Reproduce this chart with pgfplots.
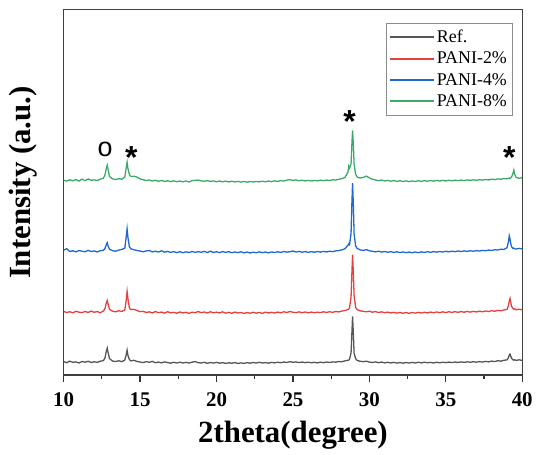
\documentclass[border=0pt]{standalone}
\usepackage{fontspec}
\setmainfont{Liberation Serif}
\newfontfamily\symfont{Liberation Sans}
\usepackage{pgfplots}
\pgfplotsset{compat=1.18}
\usepackage{pgfplotstable}

\definecolor{cRef}{RGB}{85,85,85}
\definecolor{c2}{RGB}{228,64,64}
\definecolor{c4}{RGB}{30,104,208}
\definecolor{c8}{RGB}{58,170,104}

% columns: 2theta, Ref, PANI-2%, PANI-4%, PANI-8% (stacked, arbitrary units)
\pgfplotstableread{
x     k     r     b     g
10.0  13.5  64.0  125.5 195.8
10.2  12.4  62.8  127.0 194.9
10.4  13.9  63.6  124.2 196.3
10.6  12.8  62.5  124.9 195.2
10.8  13.2  64.1  123.8 196.6
11.0  12.1  63.2  125.1 195.0
11.2  13.6  62.7  124.5 196.9
11.4  12.9  63.9  123.9 195.4
11.6  13.8  62.9  125.3 197.1
11.8  12.6  64.3  124.1 195.8
12.0  13.3  63.1  124.8 196.2
12.2  12.7  63.8  123.7 195.5
12.4  13.9  62.6  125.0 197.0
12.6  14.5  64.4  125.4 197.8
12.7  17.0  66.5  127.0 201.0
12.8  24.5  73.0  131.5 208.5
12.85 27.0  75.0  133.0 211.0
12.9  23.0  71.5  130.0 207.0
13.0  16.5  66.0  126.5 199.5
13.2  14.0  64.2  125.0 197.2
13.4  13.6  63.5  124.4 196.5
13.6  14.3  64.6  125.6 197.4
13.8  13.4  63.9  126.2 196.8
14.0  15.0  65.5  127.5 199.0
14.1  21.0  76.0  140.0 209.0
14.15 25.0  84.0  147.0 214.0
14.2  20.0  77.0  139.0 208.0
14.3  15.5  67.5  129.0 201.5
14.4  14.2  65.8  126.8 199.5
14.6  14.8  66.0  125.9 199.8
14.8  13.6  64.8  125.2 199.0
15.0  13.1  63.7  124.6 197.2
15.2  12.5  64.0  123.9 196.3
15.4  13.4  62.9  124.7 195.5
15.6  12.8  63.5  125.2 196.1
15.8  13.7  62.4  123.8 195.0
16.0  12.3  63.8  124.5 195.8
16.2  13.0  62.7  123.6 194.7
16.4  12.2  63.3  124.9 195.6
16.6  13.2  62.2  123.5 194.5
16.8  12.5  63.6  124.3 195.3
17.0  11.9  62.5  123.2 194.4
17.2  12.8  63.0  124.1 195.2
17.4  12.0  62.1  123.0 194.3
17.6  12.9  63.4  124.0 195.0
17.8  12.1  62.4  122.9 194.2
18.0  12.7  63.1  123.8 195.1
18.2  12.0  62.0  123.1 194.0
18.4  12.9  63.2  124.2 195.4
18.6  13.5  62.6  123.3 195.7
18.8  12.4  63.8  124.0 196.0
19.0  12.1  62.7  123.4 195.2
19.2  12.8  63.4  124.3 194.8
19.4  11.8  62.3  123.1 195.5
19.6  12.6  63.6  124.5 194.6
19.8  12.0  62.5  123.2 195.1
20.0  12.7  63.2  123.9 194.3
20.2  11.9  62.4  123.0 195.0
20.4  12.4  63.5  124.1 194.2
20.6  11.7  62.2  123.3 194.9
20.8  12.3  63.0  124.0 194.1
21.0  11.8  62.0  122.9 194.8
21.2  12.5  63.3  123.7 194.0
21.4  11.6  62.3  123.0 194.7
21.6  12.2  62.9  123.9 193.9
21.8  11.7  61.9  122.8 194.6
22.0  12.4  62.8  123.6 193.8
22.2  11.9  62.1  122.7 194.5
22.4  12.6  63.1  123.5 194.0
22.6  12.0  62.2  122.9 194.6
22.8  12.8  62.9  123.8 194.1
23.0  12.1  62.0  123.0 194.9
23.2  12.5  63.2  123.6 194.2
23.4  11.9  62.4  122.8 195.0
23.6  12.7  63.0  123.7 194.4
23.8  12.2  62.3  123.1 195.2
24.0  12.9  63.3  123.9 194.6
24.2  12.3  62.5  123.2 195.4
24.4  13.1  63.6  124.2 195.0
24.6  12.6  62.8  123.5 195.9
24.8  13.4  63.9  124.0 196.4
25.0  12.8  63.1  124.6 195.6
25.2  13.2  62.7  123.6 196.1
25.4  12.5  63.5  124.3 195.3
25.6  13.0  62.6  123.4 195.8
25.8  12.4  63.4  124.1 195.1
26.0  12.9  62.5  123.3 195.7
26.2  12.3  63.3  124.0 195.0
26.4  12.8  62.6  123.4 195.6
26.6  12.2  63.2  124.2 195.2
26.8  12.9  62.8  123.5 195.9
27.0  12.4  63.5  124.3 195.3
27.2  13.1  62.9  123.7 196.0
27.4  12.6  63.6  124.5 195.5
27.6  13.2  63.0  124.0 196.3
27.8  12.9  63.9  124.8 196.0
28.0  13.6  63.4  125.1 196.8
28.2  13.3  64.3  125.8 197.4
28.4  14.2  64.8  126.9 198.6
28.6  14.8  65.8  130.5 204.0
28.65 15.0  66.2  132.0 210.0
28.7  15.8  67.5  131.0 208.0
28.8  22.0  78.0  142.0 212.0
28.85 40.0  100.0 170.0 230.0
28.9  59.0  121.0 193.0 246.0
28.95 42.0  103.0 172.0 232.0
29.0  22.0  80.0  142.0 212.0
29.1  16.5  68.0  130.0 202.0
29.2  14.6  65.8  127.2 199.0
29.4  13.8  64.5  125.8 198.0
29.6  13.4  64.0  125.2 198.6
29.8  13.9  63.6  126.0 200.0
30.0  13.0  64.2  124.9 198.2
30.2  12.6  63.1  124.3 196.8
30.4  13.2  63.8  123.8 196.0
30.6  12.4  62.8  124.5 195.4
30.8  13.0  63.5  123.6 196.1
31.0  12.2  62.6  124.2 195.0
31.2  12.8  63.2  123.4 195.7
31.4  12.1  62.4  124.0 194.8
31.6  12.7  63.0  123.2 195.5
31.8  12.0  62.2  123.9 194.6
32.0  12.5  62.9  123.1 195.3
32.2  11.9  62.1  123.7 194.5
32.4  12.6  62.8  123.0 195.2
32.6  12.0  62.0  123.6 194.4
32.8  12.7  62.9  122.9 195.1
33.0  12.1  62.2  123.7 194.5
33.2  12.8  63.0  123.0 195.3
33.4  12.2  62.3  123.8 194.6
33.6  12.9  63.1  123.2 195.4
33.8  12.3  62.4  124.0 194.8
34.0  12.7  63.3  123.3 195.5
34.2  12.1  62.5  124.1 194.9
34.4  12.8  63.4  123.5 195.6
34.6  12.3  62.7  124.2 195.0
34.8  12.9  63.5  123.6 195.7
35.0  12.4  62.8  124.4 195.1
35.2  13.0  63.6  123.8 195.8
35.4  12.5  62.9  124.5 195.2
35.6  13.1  63.7  124.0 195.9
35.8  12.6  63.0  124.7 195.3
36.0  13.2  63.8  124.1 196.0
36.2  12.7  63.1  124.8 195.4
36.4  13.3  63.9  124.3 196.1
36.6  12.8  63.2  124.9 195.6
36.8  13.4  64.0  124.4 196.2
37.0  12.9  63.4  125.1 195.7
37.2  13.5  64.2  124.6 196.4
37.4  13.0  63.6  125.3 195.9
37.6  13.7  64.4  124.9 196.6
37.8  13.2  63.8  125.6 196.1
38.0  14.0  64.7  125.2 196.9
38.2  13.5  64.1  126.0 196.4
38.4  14.4  65.0  125.6 197.2
38.6  13.9  64.5  126.5 196.8
38.8  14.8  65.4  126.2 197.5
39.0  15.2  66.0  128.0 197.2
39.1  17.5  70.0  134.0 197.8
39.15 20.0  74.0  140.0 198.0
39.2  21.0  77.0  137.0 197.6
39.25 19.0  73.0  132.0 198.3
39.3  16.8  69.0  129.0 199.0
39.4  15.2  66.8  127.2 203.0
39.45 14.9  66.2  127.6 206.0
39.5  15.4  66.6  127.0 202.0
39.6  14.7  65.5  126.6 198.5
39.8  15.3  66.2  127.3 197.8
40.0  14.6  65.6  126.8 198.4
}\xrd

\begin{document}
\begin{tikzpicture}
\begin{axis}[
  scale only axis,
  width=461pt,
  height=367pt,
  xmin=10, xmax=40,
  ymin=0, ymax=367,
  xtick={10,15,...,40},
  minor xtick={12.5,17.5,...,37.5},
  xtick pos=left,
  ytick=\empty,
  tick align=outside,
  tick style={black!80, line width=1.2pt},
  major tick length=7pt,
  minor tick length=4pt,
  axis line style={draw=black!75, line width=1.1pt},
  /pgf/number format/assume math mode=true,
  xticklabel style={font=\fontsize{21}{21}\selectfont\bfseries, yshift=-7pt},
  xlabel={2theta(degree)},
  ylabel={Intensity (a.u.)},
  xlabel style={font=\fontsize{31}{31}\selectfont\bfseries,
    at={(axis description cs:0.5,0)}, anchor=center, yshift=-61pt},
  ylabel style={font=\fontsize{31}{31}\selectfont\bfseries,
    at={(axis description cs:0,0.527)}, anchor=center, yshift=41pt},
  legend style={at={(rel axis cs:0.978,0.965)}, anchor=north east,
    draw=black!45, line width=0.6pt, inner sep=3pt,
    font=\fontsize{18}{20}\selectfont,
    nodes={inner ysep=4pt}},
  legend cell align=left,
  legend image code/.code={\draw[#1, line width=2pt] (0pt,0pt) -- (44pt,0pt);},
  every axis plot/.append style={line width=1.3pt},
]
\addplot[cRef] table[x=x, y=k] {\xrd};
\addplot[c2] table[x=x, y=r] {\xrd};
\addplot[c4] table[x=x, y=b] {\xrd};
\addplot[c8] table[x=x, y=g] {\xrd};
\legend{Ref., PANI-2\%, PANI-4\%, PANI-8\%}
\node[font=\symfont\fontsize{27}{27}\selectfont] at (axis cs:12.71,227) {o};
\node[font=\symfont\bfseries\fontsize{32}{32}\selectfont] at (axis cs:14.42,219) {*};
\node[font=\symfont\bfseries\fontsize{32}{32}\selectfont] at (axis cs:28.71,255) {*};
\node[font=\symfont\bfseries\fontsize{32}{32}\selectfont] at (axis cs:39.15,219) {*};
\end{axis}
\path ([xshift=-64pt,yshift=-80pt]current axis.south west) rectangle ([xshift=11pt,yshift=10pt]current axis.north east);
\end{tikzpicture}
\end{document}
